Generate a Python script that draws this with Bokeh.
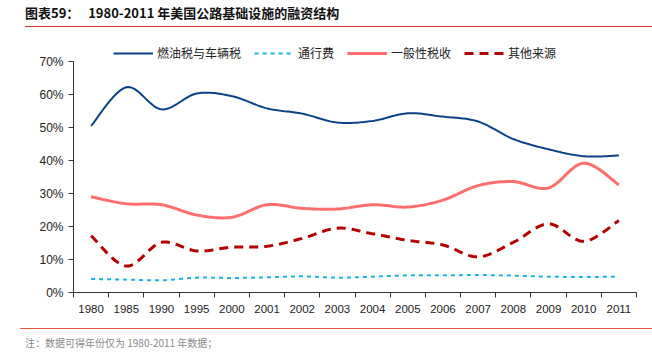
import numpy as np
from bokeh.plotting import figure
from bokeh.models import (ColumnDataSource, FixedTicker, Legend, LegendItem,
                          Div, Range1d)
from bokeh.layouts import column
from bokeh.embed import file_html
from bokeh.resources import INLINE

years = ["1980", "1985", "1990", "1995", "2000", "2001", "2002", "2003",
         "2004", "2005", "2006", "2007", "2008", "2009", "2010", "2011"]
fuel = [50.5, 62.2, 55.5, 60.3, 59.5, 55.8, 54.2, 51.5,
        52.0, 54.3, 53.3, 51.8, 46.5, 43.4, 41.3, 41.5]
toll = [4.1, 3.9, 3.7, 4.5, 4.4, 4.6, 4.9, 4.5,
        4.8, 5.2, 5.2, 5.3, 5.1, 4.8, 4.7, 4.8]
general = [29.0, 26.9, 26.6, 23.5, 22.8, 26.6, 25.5, 25.3,
           26.6, 25.9, 28.0, 32.4, 33.6, 31.7, 39.2, 32.6]
other = [17.2, 8.0, 15.2, 12.6, 13.7, 14.0, 16.4, 19.5,
         17.8, 15.8, 14.4, 10.8, 15.2, 20.8, 15.5, 21.8]
y_ticks = [0, 10, 20, 30, 40, 50, 60, 70]
y_labels = ["0%", "10%", "20%", "30%", "40%", "50%", "60%", "70%"]

series_names = ["燃油税与车辆税", "通行费", "一般性税收", "其他来源"]


def smooth(vals, n=20):
    pts = np.array(vals, dtype=float)
    idx = np.arange(len(pts), dtype=float)
    xs, ys = [], []
    last = len(pts) - 1
    for i in range(last):
        j0, j1, j2, j3 = max(i - 1, 0), i, i + 1, min(i + 2, last)
        t = np.linspace(0, 1, n, endpoint=False)
        for arr, out in ((idx, xs), (pts, ys)):
            p0, p1, p2, p3 = arr[j0], arr[j1], arr[j2], arr[j3]
            out.extend(0.5 * ((2 * p1) + (-p0 + p2) * t +
                              (2 * p0 - 5 * p1 + 4 * p2 - p3) * t ** 2 +
                              (-p0 + 3 * p1 - 3 * p2 + p3) * t ** 3))
    xs.append(idx[-1])
    ys.append(pts[-1])
    return xs, ys


NUM_FONT = "Liberation Sans"
CJK_FONT = "Noto Sans CJK SC"

# frame spans 249 px: 0..70 occupies the lower 231 px, legend sits above
Y_TOP = 70 * 249 / 231

p = figure(width=652, height=290, output_backend="svg", toolbar_location=None,
           x_range=Range1d(-0.5, len(years) - 0.5), y_range=Range1d(0, Y_TOP),
           min_border_left=73, min_border_right=16, min_border_top=16,
           min_border_bottom=25)
p.outline_line_color = None
p.xgrid.grid_line_color = None
p.ygrid.grid_line_color = None
p.background_fill_color = "white"
p.border_fill_color = "white"

styles = [
    (fuel, "#0a4286", 2, "solid"),
    (toll, "#1ab0ec", 2, "4 4"),
    (general, "#ff6e6e", 3, "solid"),
    (other, "#b30000", 3, "9 6"),
]
items = []
for (vals, color, w, dash), name in zip(styles, series_names):
    xs, ys = smooth(vals)
    src = ColumnDataSource(dict(x=xs, y=ys))
    r = p.line("x", "y", source=src, line_color=color, line_width=w,
               line_dash=dash)
    items.append(LegendItem(label=name, renderers=[r]))

# x axis: labels at category centres, ticks at boundaries
p.xaxis.ticker = FixedTicker(ticks=list(range(len(years))),
                             minor_ticks=[i - 0.5 for i in range(len(years) + 1)])
p.xaxis.major_label_overrides = {i: y for i, y in enumerate(years)}
p.xaxis.major_tick_line_color = None
p.xaxis.minor_tick_in = 0
p.xaxis.minor_tick_out = 5
p.xaxis.minor_tick_line_color = "#333333"
p.xaxis.axis_line_color = "#333333"
p.xaxis.major_label_text_font = NUM_FONT
p.xaxis.major_label_text_font_size = "11.5px"
p.xaxis.major_label_text_color = "#222222"
p.xaxis.major_label_standoff = 6

p.yaxis.ticker = FixedTicker(ticks=y_ticks, minor_ticks=[])
p.yaxis.bounds = (0, 70)
p.yaxis.major_label_overrides = {t: l for t, l in zip(y_ticks, y_labels)}
p.yaxis.major_tick_in = 0
p.yaxis.major_tick_out = 5
p.yaxis.major_tick_line_color = "#333333"
p.yaxis.axis_line_color = "#333333"
p.yaxis.major_label_text_font = NUM_FONT
p.yaxis.major_label_text_font_size = "12px"
p.yaxis.major_label_text_color = "#222222"
p.yaxis.major_label_standoff = 5

legend = Legend(items=items, orientation="horizontal", location=(40, 231),
                glyph_width=40, glyph_height=14, label_standoff=4,
                spacing=13, padding=0, margin=0,
                label_text_font=CJK_FONT, label_text_font_size="12px",
                label_text_color="#222222", border_line_color=None,
                background_fill_alpha=0)
p.add_layout(legend)

title = Div(text="图表59：&nbsp;&nbsp;&nbsp;1980-2011 年美国公路基础设施的融资结构",
            width=627, height=27, margin=(0, 0, 0, 25),
            styles={"font-family": "'Noto Sans CJK SC', sans-serif",
                    "font-weight": "bold", "font-size": "13px",
                    "color": "#111111", "border-bottom": "1.5px solid #d9352e",
                    "line-height": "26px", "box-sizing": "border-box"})
foot = Div(text="注：数据可得年份仅为 1980-2011 年数据；",
           width=632, height=25, margin=(11, 0, 0, 20),
           styles={"font-family": "'Noto Sans CJK SC', sans-serif",
                   "font-size": "10px", "color": "#8a8a8a",
                   "border-top": "1.5px solid #e8513c",
                   "padding-left": "5px", "padding-top": "7px",
                   "box-sizing": "border-box"})

layout = column(title, p, foot, spacing=0)
open("out.html", "w").write(file_html(layout, INLINE))
